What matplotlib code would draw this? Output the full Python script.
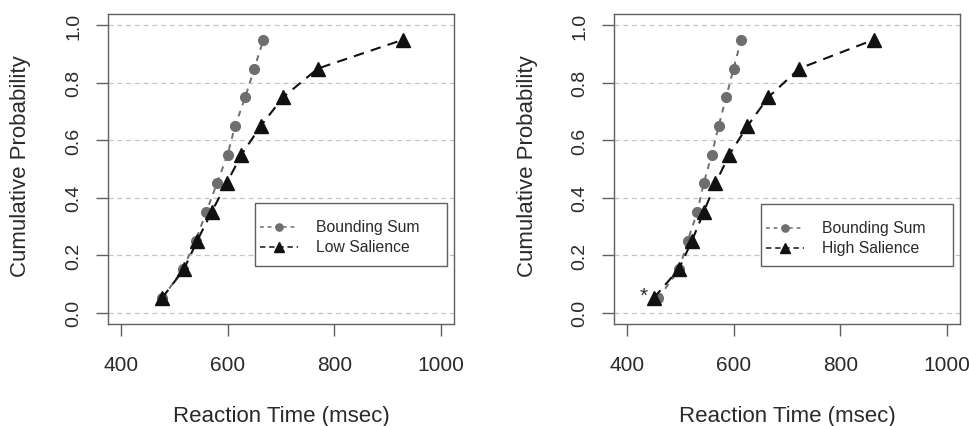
import matplotlib
matplotlib.use("Agg")
import matplotlib.pyplot as plt
from matplotlib.lines import Line2D
from matplotlib.patches import Rectangle

plt.rcParams['font.family'] = ['Liberation Sans', 'DejaVu Sans']

prob = [0.05, 0.15, 0.25, 0.35, 0.45, 0.55, 0.65, 0.75, 0.85, 0.95]

left_bound = [478, 516, 540, 560, 580, 600, 614, 633, 650, 667]
left_low = [477, 518, 543, 570, 598, 626, 662, 704, 769, 928]

right_bound = [459, 498, 514, 532, 544, 559, 572, 586, 600, 614]
right_high = [450, 497, 522, 544, 566, 592, 626, 665, 723, 862]

x_ticks = [400, 600, 800, 1000]
y_ticks = [0.0, 0.2, 0.4, 0.6, 0.8, 1.0]
y_ticklabels = ["0.0", "0.2", "0.4", "0.6", "0.8", "1.0"]

panels = [
    (left_bound, left_low, "Bounding Sum", "Low Salience"),
    (right_bound, right_high, "Bounding Sum", "High Salience"),
]

W, H = 969, 427
fig = plt.figure(figsize=(W / 100, H / 100), dpi=100)
boxes = [(108, 15, 454, 325), (614, 15, 960, 325)]
legboxes = [(255, 204, 447, 267), (761, 205, 953, 267)]

txt = '#2a2a2a'
spc = '#606060'
gray = '#6e6e6e'
dark = '#111111'

for i, ((bs, cond, lab1, lab2), (x0, y0, x1, y1)) in enumerate(zip(panels, boxes)):
    ax = fig.add_axes([x0 / W, 1 - y1 / H, (x1 - x0) / W, (y1 - y0) / H])
    ax.set_xlim(376, 1024)
    ax.set_ylim(-0.04, 1.04)
    for yv in y_ticks:
        ax.axhline(yv, color='#c4c4c4', lw=0.9, ls=(0, (4, 3)), zorder=0)
    ax.plot(bs, prob, color=gray, lw=1.4, ls=(0, (3, 3)),
            marker='o', ms=7, markerfacecolor=gray, markeredgecolor=gray, zorder=2)
    ax.plot(cond, prob, color=dark, lw=1.5, ls=(0, (5, 3.5)),
            marker='^', ms=9.5, markerfacecolor=dark, markeredgecolor=dark, zorder=3)
    ax.set_xticks(x_ticks)
    ax.set_yticks(y_ticks)
    ax.set_yticklabels(y_ticklabels, rotation=90, va='center')
    ax.tick_params(axis='x', labelsize=15, colors=spc, labelcolor=txt,
                   length=8.6, width=1, direction='out', pad=13.5)
    ax.tick_params(axis='y', labelsize=14, colors=spc, labelcolor=txt,
                   length=8.6, width=1, direction='out', pad=10)
    for sp in ax.spines.values():
        sp.set_color(spc)
        sp.set_linewidth(1)

    # axis titles
    cx = (x0 + x1) / 2
    fig.text(cx / W, 1 - 422 / H, 'Reaction Time (msec)', fontsize=16, color=txt,
             ha='center', va='baseline')
    fig.text((x0 - 87) / W, 1 - ((y0 + y1) / 2 - 4) / H, 'Cumulative Probability',
             fontsize=16, color=txt, ha='center', va='center', rotation=90)

    # legend (drawn in axes fraction coordinates)
    lx0, ly0, lx1, ly1 = legboxes[i]

    def fx(px):
        return (px - x0) / (x1 - x0)

    def fy(py):
        return 1 - (py - y0) / (y1 - y0)

    ax.add_patch(Rectangle((fx(lx0), fy(ly1)), fx(lx1) - fx(lx0), fy(ly0) - fy(ly1),
                           transform=ax.transAxes, facecolor='white', edgecolor=spc,
                           lw=1, zorder=5))
    rows = [(ly0 + 24, lab1, gray, 'o', 5.2, (0, (2.5, 2.5))),
            (ly0 + 44, lab2, dark, '^', 6.5, (0, (3.5, 2.5)))]
    for ry, lab, col, mk, ms, ls in rows:
        ax.add_line(Line2D([fx(lx0 + 5), fx(lx0 + 43)], [fy(ry), fy(ry)],
                           transform=ax.transAxes, color=col, lw=1.1, ls=ls, zorder=6))
        ax.add_line(Line2D([fx(lx0 + 24)], [fy(ry)], transform=ax.transAxes,
                           color=col, marker=mk, ms=ms, ls='none', zorder=7))
        ax.text(fx(lx0 + 61), fy(ry), lab, transform=ax.transAxes, fontsize=11.3,
                color=txt, ha='left', va='center', zorder=7)
    if i == 1:
        ax.text(431, 0.06, '*', fontsize=15, color=txt, ha='center', va='center')

fig.savefig('out.png', dpi=100)
